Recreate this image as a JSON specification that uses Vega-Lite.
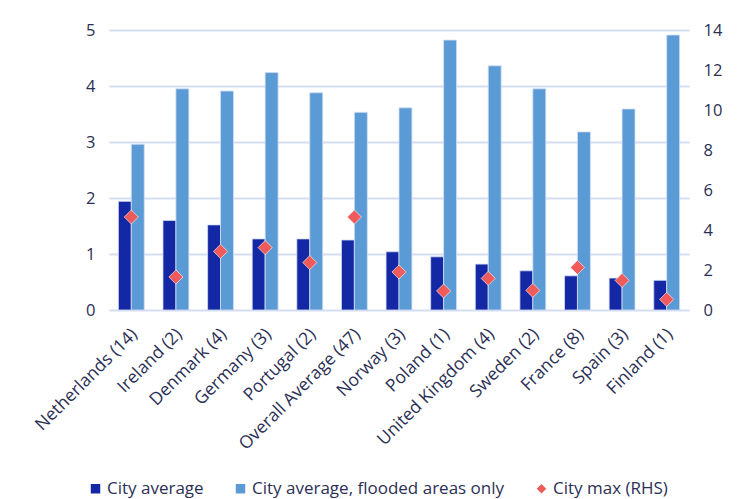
{
  "$schema": "https://vega.github.io/schema/vega-lite/v6.json",
  "width": 580,
  "height": 280,
  "autosize": {"type": "none"},
  "padding": {"left": 109, "top": 30, "right": 55, "bottom": 189},
  "background": "white",
  "config": {
    "font": "Open Sans",
    "view": {"stroke": null},
    "axis": {
      "labelColor": "#2b2f55",
      "labelFont": "Open Sans",
      "titleColor": "#2b2f55"
    },
    "legend": {"labelColor": "#2b2f55", "labelFont": "Open Sans"}
  },
  "data": {
    "values": [
      {"country": "Netherlands (14)", "series": "City average", "value": 1.94},
      {"country": "Netherlands (14)", "series": "City average, flooded areas only", "value": 2.96},
      {"country": "Netherlands (14)", "series": "City max (RHS)", "value": 4.65},
      {"country": "Ireland (2)", "series": "City average", "value": 1.60},
      {"country": "Ireland (2)", "series": "City average, flooded areas only", "value": 3.95},
      {"country": "Ireland (2)", "series": "City max (RHS)", "value": 1.65},
      {"country": "Denmark (4)", "series": "City average", "value": 1.52},
      {"country": "Denmark (4)", "series": "City average, flooded areas only", "value": 3.91},
      {"country": "Denmark (4)", "series": "City max (RHS)", "value": 2.93},
      {"country": "Germany (3)", "series": "City average", "value": 1.27},
      {"country": "Germany (3)", "series": "City average, flooded areas only", "value": 4.24},
      {"country": "Germany (3)", "series": "City max (RHS)", "value": 3.12},
      {"country": "Portugal (2)", "series": "City average", "value": 1.27},
      {"country": "Portugal (2)", "series": "City average, flooded areas only", "value": 3.88},
      {"country": "Portugal (2)", "series": "City max (RHS)", "value": 2.37},
      {"country": "Overall Average (47)", "series": "City average", "value": 1.25},
      {"country": "Overall Average (47)", "series": "City average, flooded areas only", "value": 3.53},
      {"country": "Overall Average (47)", "series": "City max (RHS)", "value": 4.65},
      {"country": "Norway (3)", "series": "City average", "value": 1.04},
      {"country": "Norway (3)", "series": "City average, flooded areas only", "value": 3.61},
      {"country": "Norway (3)", "series": "City max (RHS)", "value": 1.90},
      {"country": "Poland (1)", "series": "City average", "value": 0.95},
      {"country": "Poland (1)", "series": "City average, flooded areas only", "value": 4.82},
      {"country": "Poland (1)", "series": "City max (RHS)", "value": 0.95},
      {"country": "United Kingdom (4)", "series": "City average", "value": 0.82},
      {"country": "United Kingdom (4)", "series": "City average, flooded areas only", "value": 4.36},
      {"country": "United Kingdom (4)", "series": "City max (RHS)", "value": 1.58},
      {"country": "Sweden (2)", "series": "City average", "value": 0.70},
      {"country": "Sweden (2)", "series": "City average, flooded areas only", "value": 3.95},
      {"country": "Sweden (2)", "series": "City max (RHS)", "value": 0.98},
      {"country": "France (8)", "series": "City average", "value": 0.61},
      {"country": "France (8)", "series": "City average, flooded areas only", "value": 3.18},
      {"country": "France (8)", "series": "City max (RHS)", "value": 2.13},
      {"country": "Spain (3)", "series": "City average", "value": 0.57},
      {"country": "Spain (3)", "series": "City average, flooded areas only", "value": 3.59},
      {"country": "Spain (3)", "series": "City max (RHS)", "value": 1.48},
      {"country": "Finland (1)", "series": "City average", "value": 0.53},
      {"country": "Finland (1)", "series": "City average, flooded areas only", "value": 4.91},
      {"country": "Finland (1)", "series": "City max (RHS)", "value": 0.53}
    ]
  },
  "encoding": {
    "x": {
      "field": "country",
      "type": "nominal",
      "sort": null,
      "scale": {"paddingInner": 0.42, "paddingOuter": 0.21},
      "axis": {
        "title": null,
        "labelAngle": -45,
        "labelFontSize": 17.5,
        "labelPadding": 15,
        "labelOffset": -3,
        "ticks": false,
        "domain": false
      }
    },
    "color": {
      "field": "series",
      "type": "nominal",
      "scale": {
        "domain": ["City average", "City average, flooded areas only", "City max (RHS)"],
        "range": ["#1428a6", "#5b9bd5", "#ef5b5b"]
      },
      "legend": {
        "title": null,
        "orient": "none",
        "legendX": -22,
        "legendY": 450,
        "direction": "horizontal",
        "labelFontSize": 17,
        "symbolSize": 90,
        "symbolStrokeWidth": 0,
        "columnPadding": 28,
        "labelOffset": 3,
        "labelLimit": 400
      }
    }
  },
  "layer": [
    {
      "transform": [{"filter": "datum.series !== 'City max (RHS)'"}],
      "mark": {"type": "bar", "stroke": "#d3ddf3", "strokeWidth": 0.8},
      "encoding": {
        "xOffset": {"field": "series", "type": "nominal", "sort": ["City average", "City average, flooded areas only"], "scale": {"paddingInner": 0, "paddingOuter": 0}},
        "y": {
          "field": "value",
          "type": "quantitative",
          "scale": {"domain": [0, 5]},
          "axis": {
            "title": null,
            "tickCount": 5,
            "labelFontSize": 16.5,
            "labelPadding": 14,
            "ticks": false,
            "domain": false,
            "gridColor": "#d6ddf3",
            "gridWidth": 2
          }
        }
      }
    },
    {
      "transform": [{"filter": "datum.series === 'City max (RHS)'"}],
      "mark": {"type": "point", "filled": true, "size": 200, "stroke": "white", "strokeWidth": 0.6, "opacity": 1},
      "encoding": {
        "shape": {
          "field": "series",
          "type": "nominal",
          "scale": {
            "domain": ["City average", "City average, flooded areas only", "City max (RHS)"],
            "range": ["square", "square", "diamond"]
          },
          "legend": {"title": null}
        },
        "y": {
          "field": "value",
          "type": "quantitative",
          "scale": {"domain": [0, 14]},
          "axis": {
            "title": null,
            "orient": "right",
            "values": [0, 2, 4, 6, 8, 10, 12, 14],
            "labelFontSize": 16.5,
            "labelPadding": 14,
            "ticks": false,
            "domain": false,
            "grid": false
          }
        }
      }
    }
  ],
  "resolve": {"scale": {"y": "independent"}}
}
